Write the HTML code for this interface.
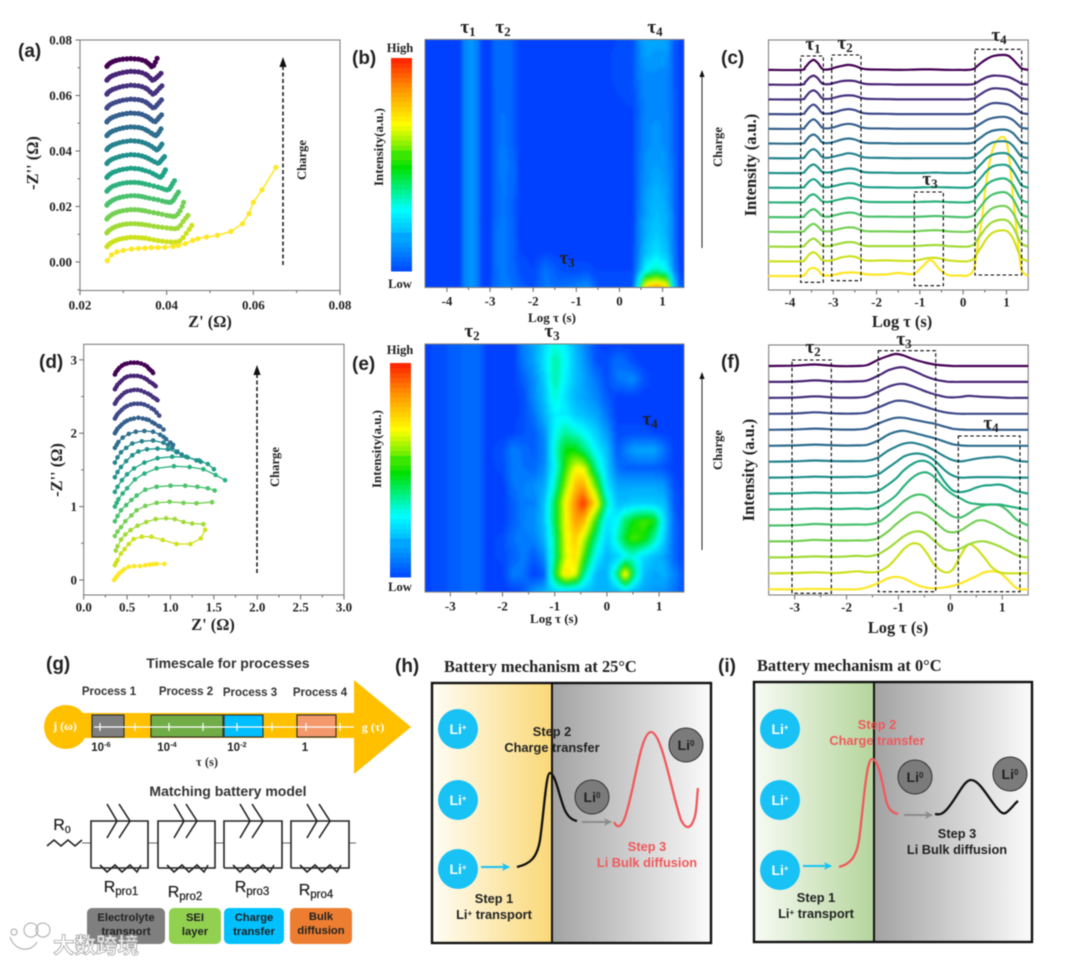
<!DOCTYPE html>
<html lang="en">
<head>
<meta charset="utf-8">
<title>DRT charge analysis figure</title>
<style>
html,body{margin:0;padding:0;background:#fff}
svg{display:block;filter:blur(.45px)}
.s{font-family:"Liberation Sans","Noto Sans CJK SC",sans-serif;font-weight:700}
.f{font-family:"Liberation Serif","Noto Sans CJK SC",serif;font-weight:700}
.m{text-anchor:middle}
.e{text-anchor:end}
.p{font-size:19px;fill:#222}
.tk{font-size:13px;fill:#222}
.big{font-size:16.4px;fill:#222}
.sm{font-size:12.6px;fill:#222}
.tau{font-size:19px;fill:#222}
.tau tspan{font-size:13px}
.st{font-size:12.8px;fill:#222}
.red{fill:#f0595c}
.pr{font-size:11.5px;fill:#333}
.lg{font-size:11.2px;fill:#222}
.box{fill:none;stroke:#000;stroke-width:1.1;stroke-dasharray:3.5 2.5}
.fr{fill:none;stroke:#808080;stroke-width:1.1}
.ci{fill:none;stroke:#222;stroke-width:1.6}
.li{fill:#fff;font-size:14px}
.li0{fill:#222;font-size:14px}
.ttl{font-size:16.4px;fill:#222}
.rp{font-size:16px;fill:#222;font-weight:400;stroke:#222;stroke-width:.25}
</style>
</head>
<body>
<svg id="figure" xmlns="http://www.w3.org/2000/svg" width="1080" height="964" viewBox="0 0 1080 964">
<defs>
<marker id="ahb" markerWidth="9" markerHeight="9" refX="7" refY="4" orient="auto" markerUnits="userSpaceOnUse"><path d="M0 0L8 4L0 8L2 4Z" fill="#19c2f5"/></marker>
<marker id="ahg" markerWidth="9" markerHeight="9" refX="7" refY="4" orient="auto" markerUnits="userSpaceOnUse"><path d="M0 0L8 4L0 8L2 4Z" fill="#8c8c8c"/></marker>
<linearGradient id="gradOrange" x1="0" x2="1" y1="0" y2="0"><stop offset="0" stop-color="#fffdf5"/><stop offset="1" stop-color="#fad877"/></linearGradient>
<linearGradient id="gradGreen" x1="0" x2="1" y1="0" y2="0"><stop offset="0" stop-color="#f8fbf5"/><stop offset="1" stop-color="#b4d59b"/></linearGradient>
<linearGradient id="gradGrey" x1="0" x2="1" y1="0" y2="0"><stop offset="0" stop-color="#a2a2a2"/><stop offset="1" stop-color="#fbfbfb"/></linearGradient>
<filter id="soft" x="-3%" y="-3%" width="106%" height="106%"><feGaussianBlur stdDeviation="1.7"/></filter>
<clipPath id="clipB"><rect x="425" y="39.5" width="259" height="248"/></clipPath>
<clipPath id="clipE"><rect x="425" y="344" width="259" height="248"/></clipPath>
</defs>

<g id="panel-a"></g>
<g id="panel-b"></g>
<g id="panel-c"></g>
<g id="panel-d"></g>
<g id="panel-e"></g>
<g id="panel-f"></g>

<!-- panel letters -->
<text class="s p" x="18" y="57">(a)</text>
<text class="s p" x="352" y="64">(b)</text>
<text class="s p" x="721" y="64">(c)</text>
<text class="s p" x="39" y="368">(d)</text>
<text class="s p" x="352" y="370">(e)</text>
<text class="s p" x="721" y="368">(f)</text>
<text class="s p" x="46" y="670">(g)</text>
<text class="s p" x="395" y="672">(h)</text>
<text class="s p" x="718" y="672">(i)</text>

<!-- axis titles -->
<text class="f big m" x="210" y="327">Z' (Ω)</text>
<text class="f big m" transform="translate(38,163) rotate(-90)">-Z'' (Ω)</text>
<text class="f big m" x="213" y="630">Z' (Ω)</text>
<text class="f big m" transform="translate(62,470) rotate(-90)">-Z'' (Ω)</text>
<text class="f tk m" x="552" y="322">Log τ (s)</text>
<text class="f tk m" x="554" y="623">Log τ (s)</text>
<text class="f big m" x="902" y="327">Log τ (s)</text>
<text class="f big m" x="898" y="633">Log τ (s)</text>
<text class="f big m" transform="translate(756,165) rotate(-90)">Intensity (a.u.)</text>
<text class="f big m" transform="translate(754,470) rotate(-90)">Intensity (a.u.)</text>
<text class="f tk m" transform="translate(383,147) rotate(-90)">Intensity(a.u.)</text>
<text class="f tk m" transform="translate(381,449) rotate(-90)">Intensity(a.u.)</text>
<text class="f sm m" x="400" y="52">High</text>
<text class="f sm m" x="400" y="288">Low</text>
<text class="f sm m" x="400" y="354">High</text>
<text class="f sm m" x="400" y="591">Low</text>

<!-- charge arrows -->
<line x1="283" y1="265" x2="283" y2="60" stroke="#111" stroke-width="1.5" stroke-dasharray="4 2.5"/>
<path d="M283 57l-3.6 10h7.2z" fill="#111"/>
<text class="f sm m" transform="translate(306,160) rotate(-90)">Charge</text>
<line x1="257" y1="573" x2="257" y2="368" stroke="#111" stroke-width="1.5" stroke-dasharray="4 2.5"/>
<path d="M257 365l-3.6 10h7.2z" fill="#111"/>
<text class="f sm m" transform="translate(279,467) rotate(-90)">Charge</text>
<line x1="702" y1="248" x2="702" y2="74" stroke="#222" stroke-width="1"/>
<path d="M702 70l-2.6 7h5.2z" fill="#111"/>
<line x1="702" y1="550" x2="702" y2="376" stroke="#222" stroke-width="1"/>
<path d="M702 372l-2.6 7h5.2z" fill="#111"/>
<text class="f sm m" transform="translate(722,147) rotate(-90)">Charge</text>
<text class="f sm m" transform="translate(722,450) rotate(-90)">Charge</text>

<!-- tau labels -->
<text class="f tau m" x="468" y="33">τ<tspan dy="3">1</tspan></text>
<text class="f tau m" x="503" y="33">τ<tspan dy="3">2</tspan></text>
<text class="f tau m" x="655" y="33">τ<tspan dy="3">4</tspan></text>
<text class="f tau m" x="567" y="264">τ<tspan dy="3">3</tspan></text>
<text class="f tau m" x="472" y="337">τ<tspan dy="3">2</tspan></text>
<text class="f tau m" x="552" y="337">τ<tspan dy="3">3</tspan></text>
<text class="f tau m" x="650" y="425">τ<tspan dy="3">4</tspan></text>
<text class="f tau m" x="813" y="50">τ<tspan dy="3">1</tspan></text>
<text class="f tau m" x="845" y="49">τ<tspan dy="3">2</tspan></text>
<text class="f tau m" x="930" y="185">τ<tspan dy="3">3</tspan></text>
<text class="f tau m" x="999" y="41">τ<tspan dy="3">4</tspan></text>
<text class="f tau m" x="813" y="353">τ<tspan dy="3">2</tspan></text>
<text class="f tau m" x="904" y="345">τ<tspan dy="3">3</tspan></text>
<text class="f tau m" x="991" y="429">τ<tspan dy="3">4</tspan></text>

<!-- dashed boxes -->
<rect class="box" x="800.7" y="56" width="22.6" height="226.3"/>
<rect class="box" x="831.7" y="55" width="29.3" height="225.7"/>
<rect class="box" x="914.3" y="192" width="29" height="93.7"/>
<rect class="box" x="975" y="49.3" width="46.7" height="225.7"/>
<rect class="box" x="792" y="360" width="39.3" height="233.3"/>
<rect class="box" x="878.3" y="350.7" width="57.4" height="241"/>
<rect class="box" x="958.3" y="436" width="61.7" height="155.7"/>

<!-- panel g -->
<g>
<text class="s m" style="font-size:14px;fill:#333" x="228" y="668">Timescale for processes</text>
<text class="s m pr" x="109" y="695">Process 1</text>
<text class="s m pr" x="186" y="695">Process 2</text>
<text class="s m pr" x="250" y="696">Process 3</text>
<text class="s m pr" x="320" y="696">Process 4</text>
<circle cx="66" cy="727" r="22" fill="#ffc000"/>
<path d="M80 713H354V680L411 727L354 774V738H80Z" fill="#ffc000"/>
<rect x="92" y="715" width="32" height="22" fill="#7f7f7f" stroke="#333" stroke-width="1.2"/>
<rect x="151" y="715" width="72" height="22" fill="#70ad47" stroke="#333" stroke-width="1.2"/>
<rect x="224" y="715" width="39" height="22" fill="#00bfff" stroke="#333" stroke-width="1.2"/>
<rect x="297" y="715" width="39" height="22" fill="#f4996b" stroke="#333" stroke-width="1.2"/>
<path d="M94 727H354M100 723v8M135 723v8M169 723v8M203 723v8M237 723v8M272 723v8M306 723v8M340 723v8" stroke="#fff" stroke-width="1.2" fill="none"/>
<text class="f m" style="font-size:12px;fill:#fff" x="65" y="730">j (ω)</text>
<text class="f m" style="font-size:12px;fill:#fff" x="373" y="731">g (τ)</text>
<text class="s m" style="font-size:11.5px;fill:#222" x="101" y="751">10<tspan dy="-4" font-size="7.5">-6</tspan></text>
<text class="s m" style="font-size:11.5px;fill:#222" x="167" y="751">10<tspan dy="-4" font-size="7.5">-4</tspan></text>
<text class="s m" style="font-size:11.5px;fill:#222" x="237" y="751">10<tspan dy="-4" font-size="7.5">-2</tspan></text>
<text class="s m" style="font-size:11.5px;fill:#222" x="305" y="751">1</text>
<text class="f m" style="font-size:12.5px;fill:#333" x="207" y="766">τ (s)</text>
<text class="s m" style="font-size:14px;fill:#333" x="228" y="796">Matching battery model</text>
<text class="s m rp" x="62" y="830">R<tspan dy="3" font-size="10.5">0</tspan></text>
<path class="ci" d="M47 846l7-6l7 6l7-6l7 6l7-6"/>
<path d="M82 843H91M148 843H158M215 843H224M282 843H291M349 843H356" stroke="#666" stroke-width="1" fill="none"/>
<path class="ci" d="M91 868V821H148V868H91M100 865l7 7l8-7l7 7l8-7l7 7l4-7"/>
<path class="ci" d="M107 804l10 17l-10 17M119 804l11 17l-11 17"/>
<path class="ci" d="M158 868V821H215V868H158M167 865l7 7l8-7l7 7l8-7l7 7l4-7"/>
<path class="ci" d="M174 804l10 17l-10 17M186 804l11 17l-11 17"/>
<path class="ci" d="M224 868V821H282V868H224M233 865l7 7l8-7l7 7l8-7l7 7l4-7"/>
<path class="ci" d="M240 804l10 17l-10 17M252 804l11 17l-11 17"/>
<path class="ci" d="M291 868V821H349V868H291M300 865l7 7l8-7l7 7l8-7l7 7l4-7"/>
<path class="ci" d="M307 804l10 17l-10 17M319 804l11 17l-11 17"/>
<text class="s m rp" x="121" y="892">R<tspan dy="3" font-size="11.5">pro1</tspan></text>
<text class="s m rp" x="185" y="897">R<tspan dy="3" font-size="11.5">pro2</tspan></text>
<text class="s m rp" x="252" y="892">R<tspan dy="3" font-size="11.5">pro3</tspan></text>
<text class="s m rp" x="316" y="895">R<tspan dy="3" font-size="11.5">pro4</tspan></text>
<rect x="87" y="908" width="78" height="36" rx="5" fill="#7f7f7f"/>
<rect x="169" y="908" width="52" height="36" rx="5" fill="#92d050"/>
<rect x="224" y="908" width="60" height="36" rx="5" fill="#00c0ff"/>
<rect x="290" y="908" width="62" height="36" rx="5" fill="#ed7d31"/>
<text class="s m lg" x="126" y="921">Electrolyte</text>
<text class="s m lg" x="126" y="935">transport</text>
<text class="s m lg" x="195" y="921">SEI</text>
<text class="s m lg" x="195" y="935">layer</text>
<text class="s m lg" x="254" y="921">Charge</text>
<text class="s m lg" x="254" y="935">transfer</text>
<text class="s m lg" x="321" y="920">Bulk</text>
<text class="s m lg" x="321" y="934">diffusion</text>
</g>

<!-- panel h -->
<g>
<text class="f ttl" x="444" y="672">Battery mechanism at 25°C</text>
<rect x="432" y="683" width="120" height="260" fill="url(#gradOrange)"/>
<rect x="552" y="683" width="159" height="260" fill="url(#gradGrey)"/>
<rect x="432" y="683" width="279" height="260" fill="none" stroke="#111" stroke-width="2.4"/>
<line x1="552" y1="683" x2="552" y2="943" stroke="#111" stroke-width="2"/>
<circle cx="458" cy="729" r="20" fill="#19c2f5"/>
<circle cx="458" cy="800" r="20" fill="#19c2f5"/>
<circle cx="458" cy="869" r="20" fill="#19c2f5"/>
<text class="s m li" x="458" y="734">Li<tspan dy="-4" font-size="8">+</tspan></text>
<text class="s m li" x="458" y="805">Li<tspan dy="-4" font-size="8">+</tspan></text>
<text class="s m li" x="458" y="874">Li<tspan dy="-4" font-size="8">+</tspan></text>
<circle cx="592" cy="797" r="17" fill="#7b7b7b" stroke="#333" stroke-width="1"/>
<circle cx="686" cy="745" r="17" fill="#7b7b7b" stroke="#333" stroke-width="1"/>
<text class="s m li0" x="592" y="802">Li<tspan dy="-4" font-size="8">0</tspan></text>
<text class="s m li0" x="686" y="750">Li<tspan dy="-4" font-size="8">0</tspan></text>
<path d="M517 867C530 864 537 858 540 840C544 812 546 773 550 773C555 773 559 795 564 808C567 816 572 820 577 821" fill="none" stroke="#111" stroke-width="2.3"/>
<path d="M614 822C617 828 620 828 624 820C634 795 640 732 651 732C662 732 672 795 681 820C686 830 691 830 695 816C697 808 697 795 698 788" fill="none" stroke="#f0595c" stroke-width="2.3"/>
<line x1="481" y1="867" x2="509" y2="867" stroke="#19c2f5" stroke-width="2" marker-end="url(#ahb)"/>
<line x1="582" y1="822" x2="611" y2="822" stroke="#8c8c8c" stroke-width="2" marker-end="url(#ahg)"/>
<text class="s m st" x="552" y="736">Step 2</text>
<text class="s m st" x="552" y="752">Charge transfer</text>
<text class="s m st red" x="647" y="851">Step 3</text>
<text class="s m st red" x="647" y="867">Li Bulk diffusion</text>
<text class="s m st" x="494" y="903">Step 1</text>
<text class="s m st" x="494" y="919">Li<tspan dy="-3" font-size="8">+</tspan><tspan dy="3"> transport</tspan></text>
</g>

<!-- panel i -->
<g>
<text class="f ttl" x="757" y="671">Battery mechanism at 0°C</text>
<rect x="754" y="682" width="120" height="260" fill="url(#gradGreen)"/>
<rect x="874" y="682" width="158" height="260" fill="url(#gradGrey)"/>
<rect x="754" y="682" width="278" height="260" fill="none" stroke="#111" stroke-width="2.4"/>
<line x1="874" y1="682" x2="874" y2="942" stroke="#111" stroke-width="2"/>
<circle cx="780" cy="729" r="20" fill="#19c2f5"/>
<circle cx="780" cy="800" r="20" fill="#19c2f5"/>
<circle cx="780" cy="870" r="20" fill="#19c2f5"/>
<text class="s m li" x="780" y="734">Li<tspan dy="-4" font-size="8">+</tspan></text>
<text class="s m li" x="780" y="805">Li<tspan dy="-4" font-size="8">+</tspan></text>
<text class="s m li" x="780" y="875">Li<tspan dy="-4" font-size="8">+</tspan></text>
<circle cx="915" cy="777" r="17" fill="#7b7b7b" stroke="#333" stroke-width="1"/>
<circle cx="1010" cy="774" r="17" fill="#7b7b7b" stroke="#333" stroke-width="1"/>
<text class="s m li0" x="915" y="782">Li<tspan dy="-4" font-size="8">0</tspan></text>
<text class="s m li0" x="1010" y="779">Li<tspan dy="-4" font-size="8">0</tspan></text>
<path d="M839 867C850 864 856 858 859 840C863 812 866 759 872 759C878 759 882 780 886 800C889 812 894 813 898 814" fill="none" stroke="#f0595c" stroke-width="2.3"/>
<path d="M935 814C940 815 943 814 948 808C958 796 964 780 971 780C978 780 985 792 993 803C999 811 1003 816 1007 812C1012 808 1015 803 1018 801" fill="none" stroke="#111" stroke-width="2.3"/>
<line x1="803" y1="866" x2="831" y2="866" stroke="#19c2f5" stroke-width="2" marker-end="url(#ahb)"/>
<line x1="904" y1="815" x2="932" y2="815" stroke="#8c8c8c" stroke-width="2" marker-end="url(#ahg)"/>
<text class="s m st red" x="877" y="729">Step 2</text>
<text class="s m st red" x="877" y="745">Charge transfer</text>
<text class="s m st" x="957" y="838">Step 3</text>
<text class="s m st" x="957" y="854">Li Bulk diffusion</text>
<text class="s m st" x="816" y="902">Step 1</text>
<text class="s m st" x="816" y="918">Li<tspan dy="-3" font-size="8">+</tspan><tspan dy="3"> transport</tspan></text>
</g>

<!-- watermark -->
<g>
<path d="M10 937C14 950 30 954 37 942M24 930a7 7 0 1 1 0 .1M36 930a7 7 0 1 1 0 .1M11 932a3 3 0 1 1 0 .1" fill="none" stroke="#fff" stroke-width="3" opacity=".85"/>
<path d="M10 937C14 950 30 954 37 942M24 930a7 7 0 1 1 0 .1M36 930a7 7 0 1 1 0 .1M11 932a3 3 0 1 1 0 .1" fill="none" stroke="#a8a8a8" stroke-width="1"/>
<text x="53" y="953" style="font-family:'Liberation Sans','Noto Sans CJK SC',sans-serif;font-size:21.5px;font-weight:700;fill:#fff;fill-opacity:.8;stroke:#9a9a9a;stroke-width:.7">大数跨境</text>
</g>
</svg>

<script>
/* shared series colours, index 0 = first (yellow) curve, 14 = last (purple) curve */
const seriesColors = ['#fde725','#cde11d','#a0da39','#75d054','#4ac16d','#2db27d','#1fa187','#21918c','#26828e','#2e6e8e','#355f8d','#3e4989','#46327e','#482475','#440154'];

/* ---- panel a data (Z', -Z'' in ohm, stacked with offset as plotted) ---- */
const aXTicks = [0.02,0.04,0.06,0.08];
const aXMinor = [0.03,0.05,0.07];
const aYTicks = [0,0.02,0.04,0.06,0.08];
const aYMinor = [-0.01,0.01,0.03,0.05,0.07];
const aFirstRe = [.0263,.0273,.0285,.030,.0319,.0335,.035,.0365,.038,.0396,.0415,.0427,.0443,.046,.0472,.0492,.0517,.0548,.0575,.059,.06,.062,.0652];
const aFirstIm = [.0005,.0026,.0036,.0042,.0047,.0049,.005,.0052,.0052,.0053,.0056,.0059,.0066,.0078,.0084,.009,.0096,.011,.0138,.0174,.0215,.026,.0341];
const aArcRe = [.0262,.0265,.0270,.0276,.0283,.0291,.0299,.0308,.0317,.0326,.0335,.0343,.0351];
const aArcIm = [
[.0055,.0061,.0067,.0073,.0078,.0082,.0085,.0087,.0089,.0089,.0088,.0087,.0086],
[.0105,.0111,.0117,.0123,.0128,.0132,.0135,.0137,.0138,.0138,.0137,.0136,.0134],
[.0155,.0161,.0167,.0173,.0178,.0182,.0185,.0187,.0189,.0189,.0188,.0186,.0184],
[.0205,.0211,.0217,.0223,.0228,.0232,.0235,.0237,.0239,.0239,.0238,.0236,.0233],
[.0255,.0261,.0267,.0273,.0277,.0281,.0284,.0286,.0287,.0287,.0286,.0284,.0281],
[.0305,.0311,.0317,.0323,.0327,.0331,.0334,.0336,.0338,.0337,.0336,.0333,.0329],
[.0355,.0361,.0367,.0372,.0376,.0380,.0383,.0385,.0387,.0386,.0385,.0382,.0378],
[.0405,.0411,.0417,.0422,.0426,.0430,.0433,.0435,.0437,.0436,.0435,.0432,.0428],
[.0455,.0461,.0467,.0472,.0476,.0480,.0483,.0485,.0487,.0486,.0485,.0482,.0477],
[.0505,.0511,.0517,.0522,.0526,.0530,.0533,.0535,.0537,.0536,.0535,.0532,.0527],
[.0555,.0561,.0567,.0572,.0576,.0580,.0583,.0585,.0587,.0586,.0585,.0582,.0577],
[.0605,.0611,.0617,.0622,.0626,.0630,.0633,.0635,.0637,.0636,.0635,.0632,.0627],
[.0655,.0661,.0667,.0672,.0676,.0680,.0683,.0685,.0687,.0686,.0685,.0682,.0677],
[.0705,.0711,.0717,.0722,.0726,.0729,.0731,.0732,.0733,.0732,.0731,.0728,.0724]];
const aTailRe = [
[.036,.037,.038,.039,.040,.041,.042,.043,.0438,.0445,.0452,.0458],
[.036,.037,.038,.039,.040,.041,.0418,.0425,.0432,.0438,.0444,.0449],
[.036,.037,.038,.039,.040,.0408,.0415,.042,.0426,.0431,.0436,.0439],
[.036,.037,.038,.039,.0398,.0405,.041,.0415,.0419,.0423,.0427],
[.036,.037,.038,.0388,.0395,.0401,.0406,.041,.0414,.0418],
[.036,.0368,.0375,.0382,.0386,.039,.0394,.0397],
[.0358,.0365,.0372,.0379,.0383,.0387,.0391,.0395],
[.0358,.0365,.0371,.0377,.0381,.0385,.0389],
[.0357,.0364,.037,.0375,.0379,.0383,.0387],
[.0357,.0363,.0369,.0374,.0379,.0383,.0388],
[.0356,.0362,.0368,.0373,.0378,.0383,.0388],
[.0356,.0362,.0368,.0373,.0378,.0384,.0389],
[.0356,.0362,.0367,.0372,.0377,.0382,.0387],
[.0356,.0361,.0365,.037,.0374,.0378]];
const aTailIm = [
[.0083,.0080,.0077,.0075,.0073,.0072,.0072,.0076,.0088,.0103,.0118,.0132],
[.0132,.0129,.0127,.0125,.0123,.0121,.012,.0122,.0132,.0146,.0158,.0168],
[.0181,.0178,.0175,.0172,.0168,.0166,.0164,.0165,.0173,.0185,.0200,.0215],
[.023,.0227,.0224,.022,.0217,.0215,.0216,.0222,.0232,.0242,.0252],
[.0278,.0274,.027,.0266,.0262,.026,.0263,.0272,.0283,.0293],
[.0325,.0319,.0313,.0307,.0306,.0312,.0323,.0332],
[.0373,.0367,.0361,.0356,.0358,.0365,.0373,.038],
[.0423,.0417,.0410,.0404,.0408,.0416,.0425],
[.0472,.0465,.0459,.0455,.0461,.047,.048],
[.0522,.0515,.0508,.0506,.0514,.0522,.053],
[.0572,.0564,.0556,.0558,.0566,.0575,.0584],
[.0622,.0613,.0605,.0609,.0617,.0627,.0635],
[.0672,.0663,.0655,.0658,.0665,.0672,.068],
[.0718,.0711,.0704,.0708,.0720,.0734]];

/* ---- panel d data ---- */
const dXTicks = [0,0.5,1,1.5,2,2.5,3];
const dXLabels = ['0.0','0.5','1.0','1.5','2.0','2.5','3.0'];
const dXMinor = [0.25,0.75,1.25,1.75,2.25,2.75];
const dYTicks = [0,1,2,3];
const dYMinor = [0.5,1.5,2.5];
const dRe = [
[.35,.37,.39,.41,.44,.47,.52,.58,.65,.71,.76,.80,.84,.93],
[.36,.37,.39,.43,.47,.52,.575,.67,.78,.91,1.07,1.23,1.35,1.4],
[.37,.39,.43,.48,.54,.62,.72,.83,.95,1.05,1.15,1.25,1.38],
[.36,.39,.43,.48,.55,.61,.71,.84,.99,1.15,1.3,1.48],
[.36,.39,.43,.49,.55,.61,.71,.84,1.0,1.17,1.31,1.43,1.51],
[.36,.38,.4,.45,.5,.59,.7,.84,1.04,1.22,1.38,1.52,1.63],
[.36,.39,.44,.5,.58,.7,.85,1.02,1.2,1.33,1.43,1.5],
[.36,.39,.43,.49,.56,.63,.73,.85,.97,1.07,1.18,1.3,1.35],
[.36,.39,.43,.49,.56,.67,.8,.92,.97,1.02,1.08,1.13],
[.36,.38,.4,.45,.52,.6,.7,.8,.88,.92,.95,1.0,1.03],
[.36,.375,.39,.415,.44,.47,.5,.54,.58,.63,.68,.72,.75,.79,.82,.86,.88,.92],
[.36,.375,.39,.415,.44,.47,.5,.54,.58,.62,.66,.70,.74,.78,.81,.84,.87],
[.36,.375,.39,.415,.44,.47,.5,.54,.58,.62,.66,.70,.74,.77,.8,.83,.85],
[.36,.375,.39,.415,.44,.47,.5,.54,.58,.62,.66,.70,.73,.76,.79,.81,.83],
[.36,.37,.39,.41,.44,.47,.5,.54,.58,.62,.66,.70,.73,.75,.77,.79,.8]];
const dIm = [
[0,.03,.06,.09,.12,.15,.18,.19,.19,.2,.21,.215,.22,.22],
[.2,.23,.27,.36,.42,.49,.558,.59,.59,.545,.49,.49,.567,.685],
[.4,.46,.55,.62,.68,.74,.79,.83,.84,.83,.79,.77,.76],
[.6,.66,.72,.8,.88,.95,1.01,1.05,1.065,1.05,1.045,1.06],
[.8,.87,.95,1.02,1.09,1.15,1.23,1.27,1.285,1.285,1.27,1.25,1.22],
[1,1.05,1.1,1.18,1.25,1.37,1.45,1.52,1.55,1.54,1.51,1.43,1.36],
[1.2,1.27,1.36,1.44,1.52,1.6,1.66,1.68,1.67,1.63,1.58,1.51],
[1.4,1.47,1.54,1.62,1.7,1.75,1.78,1.79,1.78,1.74,1.68,1.63,1.61],
[1.6,1.67,1.74,1.8,1.86,1.89,1.9,1.87,1.84,1.8,1.75,1.71],
[1.8,1.84,1.88,1.94,1.99,2.02,2.03,2.02,1.98,1.95,1.92,1.87,1.84],
[2,2.03,2.06,2.09,2.12,2.15,2.17,2.19,2.2,2.21,2.2,2.19,2.18,2.15,2.13,2.1,2.09,2.05],
[2.2,2.23,2.26,2.29,2.32,2.35,2.37,2.39,2.4,2.4,2.4,2.39,2.37,2.34,2.32,2.28,2.24],
[2.4,2.43,2.46,2.49,2.52,2.55,2.57,2.58,2.59,2.59,2.58,2.56,2.54,2.52,2.49,2.47,2.45],
[2.6,2.63,2.66,2.69,2.72,2.75,2.77,2.78,2.78,2.78,2.77,2.75,2.73,2.7,2.68,2.66,2.64],
[2.8,2.83,2.86,2.89,2.92,2.94,2.95,2.96,2.96,2.96,2.95,2.93,2.91,2.88,2.86,2.84,2.82]];

/* ---- panel b heatmap: rows bottom to top, normalised intensity ---- */
const bTicks = [-4,-3,-2,-1,0,1];
const bMinor = [-3.5,-2.5,-1.5,-0.5,0.5];
const bTau = [-4.5,-3.7,-3.6,-3.45,-3.3,-3.2,-3.0,-2.9,-2.7,-2.45,-2.3,-2.0,-1.7,-1.4,-1.1,-0.75,-0.5,0.3,0.45,0.6,0.85,1.1,1.25,1.4,1.5];
const bGrid = [
[0,0,.11,.13,.11,0,.01,.07,.09,.08,.04,.03,.09,.07,.09,.13,.03,.02,.35,.78,.86,.78,.28,.05,.02],
[0,0,.11,.13,.11,0,0,.07,.09,.06,.03,.01,.08,.03,.02,.02,.01,.01,.14,.29,.36,.29,.12,.01,0],
[0,0,.11,.13,.11,0,0,.07,.1,.05,.01,0,.01,0,0,0,0,.01,.11,.2,.25,.2,.1,0,0],
[0,0,.11,.13,.11,0,0,.07,.1,.05,0,0,0,0,0,0,0,.01,.1,.18,.22,.18,.09,0,0],
[0,0,.11,.13,.11,0,0,.06,.09,.05,0,0,0,0,0,0,0,.01,.09,.16,.2,.17,.09,0,0],
[0,0,.11,.13,.11,0,0,.06,.09,.05,0,0,0,0,0,0,0,.01,.09,.15,.19,.16,.08,0,0],
[0,0,.11,.13,.11,0,0,.06,.09,.06,0,0,0,0,0,0,0,.01,.08,.13,.17,.14,.07,0,0],
[0,0,.11,.13,.11,0,0,.06,.1,.06,0,0,0,0,0,0,0,.01,.07,.13,.15,.13,.07,0,0],
[0,0,.11,.13,.11,0,0,.06,.09,.05,0,0,0,0,0,0,0,.01,.07,.12,.13,.12,.06,0,0],
[0,0,.11,.13,.11,0,0,.06,.09,.05,0,0,0,0,0,0,0,.01,.07,.12,.13,.12,.06,0,0],
[0,0,.11,.13,.11,0,0,.06,.08,.05,0,0,0,0,0,0,0,.01,.06,.11,.12,.11,.06,0,0],
[0,0,.11,.13,.11,0,0,.06,.08,.05,0,0,0,0,0,0,0,.02,.08,.11,.12,.11,.06,0,0],
[0,0,.11,.13,.11,0,0,.07,.08,.05,0,0,0,0,0,0,0,.03,.09,.12,.12,.11,.05,0,0],
[0,0,.11,.13,.11,0,0,.07,.08,.05,0,0,0,0,0,0,0,.03,.1,.15,.14,.14,.05,0,0],
[0,0,.11,.13,.11,0,0,.07,.08,.05,0,0,0,0,0,0,0,.02,.12,.16,.16,.16,.06,0,0]];

/* ---- panel e heatmap ---- */
const eTicks = [-3,-2,-1,0,1];
const eMinor = [-2.5,-1.5,-0.5,0.5];
const eTau = [-3.5,-2.75,-2.6,-2.45,-2.3,-2.0,-1.8,-1.6,-1.4,-1.2,-1.0,-0.8,-0.6,-0.45,-0.2,0,0.2,0.35,0.5,0.7,0.9,1.1,1.3,1.5];
const eGrid = [
[0,.06,.07,.06,0,0,0,.03,.14,.18,.22,.22,.2,.2,.18,.17,.18,.22,.18,.16,.14,.13,.08,.02],
[0,.06,.07,.06,0,0,.1,.08,0,.04,.48,.75,.68,.4,.18,.18,.42,.75,.45,.2,.16,.18,.1,.02],
[0,.06,.07,.06,0,.02,.05,.1,.04,.12,.4,.66,.76,.55,.28,.18,.22,.3,.32,.24,.2,.16,.05,0],
[0,.06,.07,.06,0,.02,.08,.1,.1,.18,.4,.68,.78,.66,.38,.22,.35,.48,.55,.52,.38,.22,.05,0],
[0,.06,.07,.06,0,0,.05,.1,.12,.2,.45,.68,.85,.82,.5,.25,.3,.42,.5,.55,.52,.25,.05,0],
[0,.06,.07,.06,0,0,.05,.1,.1,.2,.45,.7,.88,1,.72,.36,.2,.2,.22,.22,.22,.2,.03,0],
[0,.06,.07,.06,0,0,.08,.1,.12,.16,.36,.6,.8,.84,.55,.26,.16,.16,.16,.16,.16,.14,.02,0],
[0,.06,.07,.06,0,.02,.1,.08,.06,.12,.3,.52,.7,.68,.38,.22,.08,.05,.05,.05,.05,.03,0,0],
[0,.06,.07,.06,0,.03,.1,.07,.05,.1,.33,.5,.5,.42,.28,.2,.04,.1,.15,.16,.16,.08,0,0],
[0,.06,.07,.06,0,0,.01,.03,.05,.12,.3,.38,.34,.3,.22,.14,.02,.02,.02,.02,.01,0,0,0],
[0,.06,.07,.06,0,0,0,.02,.08,.18,.28,.28,.22,.2,.16,.08,0,0,0,0,0,0,0,0],
[0,.06,.07,.06,0,0,0,.02,.12,.2,.34,.25,.18,.16,.11,.04,0,0,0,0,0,0,0,0],
[0,.06,.07,.06,0,0,0,.05,.12,.22,.38,.28,.2,.16,.08,.02,.08,.1,.12,.03,0,0,0,0],
[0,.06,.07,.06,0,0,0,.09,.15,.26,.38,.3,.2,.14,.03,.02,.08,.06,.02,0,0,0,0,0],
[0,.06,.07,.06,0,0,0,.1,.16,.24,.32,.28,.18,.12,.01,0,0,0,0,0,0,0,0,0]];

/* ---- panel c ridgeline: curve heights (a.u.) ---- */
const cTicks = [-4,-3,-2,-1,0,1];
const cMinor = [-3.5,-2.5,-1.5,-0.5,0.5];
const cTau = [-4.5,-3.75,-3.65,-3.55,-3.45,-3.35,-3.25,-3.1,-2.95,-2.8,-2.65,-2.5,-2.35,-2.2,-1.8,-1.5,-1.15,-.95,-.75,-.55,-.35,-.1,.1,.24,.31,.43,.55,.7,.93,1.05,1.16,1.28,1.35,1.5];
const cCurves = [
[0,0,2,7,8,6,1,.5,1.5,3,3.5,3.5,2.5,1.5,1.5,3,2,9,16,7,1,.5,.5,6,23,56,99,129,139,123,76,29,6,0],
[0,0,2,7,9,6,1,.5,2,4,5,4.5,2,.5,1,.5,.5,2,3.5,3,1,0,0,2,7,15,23,29,31,29,22,9,3,0],
[0,0,2,6,8,5,1,.5,2,3.5,4.5,4,1.5,.5,.5,.5,.5,1,1.5,1.5,.5,0,0,1.6,6,13,20,25,27,25,19,8,2.7,0],
[0,0,2,6,8,5,1,.5,2,3.5,4.5,4,1.5,.5,.5,.3,.3,1,1.5,1.5,.5,0,0,1.5,5.7,12.5,19,24,26,24,18,8,2.6,0],
[0,0,2,6,8,5,1,.5,2,3.5,4.5,4,1.5,.5,.5,.3,.3,.5,1,1,.5,0,0,1.5,5.5,12,18.5,23,25,23,17.5,7.5,2.5,0],
[0,0,2,6.5,8,5,1,.5,2,3.5,4.5,4,1.5,.5,.3,.3,.3,.5,.8,.8,.3,0,0,1.4,5.3,11.5,18,22,24,22,17,7,2.4,0],
[0,0,2,6.5,8.5,5.5,1,.5,2,3.5,4.5,4,1.5,.5,.3,0,0,.3,.5,.5,.3,0,0,1.4,5,11,17,21.5,23,21.5,16,7,2.3,0],
[0,0,2,6.5,8.5,5.5,1,.5,2,3.5,4.5,4,1.5,.5,.3,0,0,0,.3,.3,0,0,0,1.2,4.4,9.6,15,18.6,20,18.6,14,6,2,0],
[0,0,2,7,9,6,1,.5,2,3.5,5,4,1.5,.5,.3,0,0,0,0,0,0,0,0,1,3.7,8,12.6,16,17,16,12,5,1.7,0],
[0,0,2,7,9,6,1,.5,2,4,5,4,1.5,.5,.3,0,0,0,0,0,0,0,0,.8,3,6.7,10.4,13,14,13,10,4.2,1.4,0],
[0,0,2,7,9.5,6,1,.5,2,4,5,4,1.5,.5,.3,0,0,0,0,0,0,0,0,.7,2.6,5.8,8.9,11,12,11,8.4,3.6,1.2,0],
[0,0,2,7,9.5,6,1,.5,2,4,5,4,1.5,.5,.3,0,0,0,0,0,0,0,0,.7,2.4,6,9,11,10.5,9.5,7,3.3,1.1,0],
[0,0,2,7,9,6,1,.5,2,3.5,4,3.5,1.5,.5,.3,0,0,0,0,0,0,0,0,.7,2.4,6,9,11,10.5,9.5,7,3.3,1.1,0],
[0,0,2.5,7,9,6,1,.5,2,3.5,4,3.5,1.5,.5,.3,0,0,0,0,0,0,0,0,.5,2,5,7.5,9,8.5,7.5,5.5,2.7,.9,0],
[0,0,2.5,7.5,10,6.5,1,.5,2.5,4,5,4,1.5,.5,.3,0,.3,.5,.5,.3,0,0,0,.9,3.3,7.5,11,14,15,14,10,4.5,1.5,0]];

/* ---- panel f ridgeline ---- */
const fTicks = [-3,-2,-1,0,1];
const fMinor = [-2.5,-1.5,-0.5,0.5];
const fTau = [-3.5,-3,-2.6,-2.2,-1.8,-1.6,-1.4,-1.2,-1.05,-.9,-.75,-.6,-.45,-.3,-.1,.05,.2,.35,.5,.65,.8,.95,1.1,1.25,1.35,1.5];
const fCurves = [
[0,0,.5,0,0,2,6,11,12.5,11,7,3.5,1.5,1,2,3.5,6,9.5,13,17,18,16.5,10,2,0,0],
[0,.3,1,.3,2,1,1.5,7,15,24,29.5,29,20,8,1,4,18,29,25,16,6,1,0,0,0,0],
[0,.3,1,.5,1.5,1,3,9,15,21,25,26,23,16,8,7,9,13,15.5,16,14,11,7,3,1,0],
[0,.3,1.5,.8,1,1,3,10,17,23,28,29,26,20,11,9,11,16,20.5,21,18,14,9,5,3,0],
[0,.3,1.5,.8,1,1,3,10,17,24,29,31,29,22,14,9,8,12,17,20,21,20,15,7,3.5,0],
[0,.3,1,.5,1,.5,2,8,14,23,31,36,37,32,21,15,11,7,5.5,5,5,5,3.5,2,1,0],
[0,.3,1,.5,.8,.8,2.5,9,15,23,29,32.5,32,26,11,3,1.5,3,6,8,8.5,9,7,3,1.5,0],
[0,.3,1,.5,.8,.8,3,10,15.5,21,23.5,24,22,17,7,2,0,.2,.5,.5,.5,.5,.3,0,0,0],
[0,.3,1.2,.5,.5,1,4,11,15,18,19,17.5,15,11,5,1.5,.3,1.5,3,4,4.5,5,4,1.5,.5,0],
[0,.3,1.2,.3,.3,1,5,11,14,15,13.5,11.5,9.5,7.5,4,1.5,.3,0,0,0,0,0,0,0,0,0],
[0,.3,1.2,.3,.3,1.5,6,10,12,12,10.5,9,7.5,6,3,1,.3,0,0,0,0,0,0,0,0,0],
[0,.3,1.5,.3,.3,1.5,6,10.5,13,13,11.5,9,6.5,4,1.5,.5,0,0,0,0,0,0,0,0,0,0],
[0,.3,1.5,.3,.3,1.5,6,11,13.5,14,12,9,6,3.5,1,.5,1,2,1.5,1,.8,.5,0,0,0,0],
[0,.3,1.5,.3,.5,1.5,6,11.5,14,14.6,12,8.5,5,2.5,.5,0,0,0,0,0,0,0,0,0,0,0],
[0,.3,1.5,0,0,1,6,10,12,10.5,7.5,5,3,1.5,.5,0,0,0,0,0,0,0,0,0,0,0]];

/* ---- scales ---- */
const NS = 'http://www.w3.org/2000/svg';
const scaleAx = v => 80 + (v - 0.02) / 0.06 * 260;
const scaleAy = v => 262 - v / 0.08 * 222;
const scaleDx = v => 83.7 + v / 3 * 260.3;
const scaleDy = v => 580 - v * 73.4;
const scaleBx = v => 425.4 + (v + 4.5) * 43.12;
const scaleCx = v => 768.3 + (v + 4.5) * 43.3;
const scaleEx = v => 424.2 + (v + 3.5) * 52.2;
const scaleFx = v => 768.7 + (v + 3.5) * 51.9;

function make(tag, parent) {
  const n = document.createElementNS(NS, tag);
  parent.appendChild(n);
  return n;
}

function drawFrame(parent, x, y, w, h) {
  const r = make('rect', parent);
  r.setAttribute('class', 'fr');
  r.setAttribute('x', x);
  r.setAttribute('y', y);
  r.setAttribute('width', w);
  r.setAttribute('height', h);
  
  
}

function drawTickLine(parent, x1, y1, x2, y2) {
  const t = make('line', parent);
  t.setAttribute('x1', x1);
  t.setAttribute('y1', y1);
  t.setAttribute('x2', x2);
  t.setAttribute('y2', y2);
  t.setAttribute('stroke', '#666');
  t.setAttribute('stroke-width', '1');
  
  
}

function drawTickLabel(parent, x, y, txt, anchorClass) {
  const t = make('text', parent);
  t.setAttribute('class', 'f tk ' + anchorClass);
  t.setAttribute('x', x);
  t.setAttribute('y', y);
  t.textContent = txt;
  
  
}

function xAxis(parent, scale, y0, ticks, minors, labels, labelY) {
  ticks.forEach((v, i) => {
    drawTickLine(parent, scale(v), y0, scale(v), y0 + 4.5);
    drawTickLabel(parent, scale(v), labelY, labels[i], 'm');
  });
  minors.forEach(v => drawTickLine(parent, scale(v), y0, scale(v), y0 + 2.5));
}

function yAxis(parent, scale, x0, ticks, minors, labels, labelX) {
  ticks.forEach((v, i) => {
    drawTickLine(parent, x0, scale(v), x0 - 4.5, scale(v));
    drawTickLabel(parent, labelX, scale(v) + 4.5, labels[i], 'e');
  });
  minors.forEach(v => drawTickLine(parent, x0, scale(v), x0 - 2.5, scale(v)));
}

function nyquist(parent, re, im, sx, sy, color, r, lw) {
  const g = make('g', parent);
  
  
  const pl = make('polyline', g);
  pl.setAttribute('points', re.map((v, i) => sx(v).toFixed(1) + ',' + sy(im[i]).toFixed(1)).join(' '));
  pl.setAttribute('fill', 'none');
  pl.setAttribute('stroke', color);
  pl.setAttribute('stroke-width', lw);
  
  
  re.forEach((v, i) => {
    const c = make('circle', g);
    c.setAttribute('cx', sx(v).toFixed(1));
    c.setAttribute('cy', sy(im[i]).toFixed(1));
    c.setAttribute('r', r);
    c.setAttribute('fill', color);
    
    
  });
}

const colorStops = [[0,0,64,255],[.3,0,255,255],[.5,0,224,0],[.7,255,255,0],[.87,255,145,0],[1,255,40,0]];
const colorLevels = 44;

function jet(v) {
  const q = Math.min(1, Math.max(0, Math.round(v * colorLevels) / colorLevels));
  for (let i = 1; i < colorStops.length; i++) {
    if (q <= colorStops[i][0]) {
      const a = colorStops[i - 1], b = colorStops[i];
      const t = (q - a[0]) / (b[0] - a[0]);
      return 'rgb(' + [1, 2, 3].map(k => Math.round(a[k] + (b[k] - a[k]) * t)).join(',') + ')';
    }
  }
  return 'rgb(255,40,0)';
}

function sampleGrid(grid, taus, logT, rowPos) {
  let c = 0;
  while (c < taus.length - 2 && logT > taus[c + 1]) c++;
  const tx = Math.min(1, Math.max(0, (logT - taus[c]) / (taus[c + 1] - taus[c])));
  const r = Math.min(grid.length - 2, Math.floor(rowPos));
  const ty = rowPos - r;
  const top = grid[r + 1][c] * (1 - tx) + grid[r + 1][c + 1] * tx;
  const bot = grid[r][c] * (1 - tx) + grid[r][c + 1] * tx;
  return bot * (1 - ty) + top * ty;
}

function heatmap(parent, grid, taus, sx, left, right, top, bottom, clipId) {
  const clip = make('g', parent);
  clip.setAttribute('clip-path', 'url(#' + clipId + ')');
  
  
  const g = make('g', clip);
  g.setAttribute('filter', 'url(#soft)');
  
  
  const step = 2;
  const pad = 8;
  const pxPerUnit = sx(1) - sx(0);
  const origin = sx(0);
  const xEnd = right + pad;
  for (let y = top - pad; y < bottom + pad; y += step) {
    const raw = (bottom - y - step / 2) / (bottom - top) * (grid.length - 1);
    const rowPos = Math.min(grid.length - 1, Math.max(0, raw));
    let runStart = left - pad, runColor = null;
    for (let x = left - pad; ; x += step) {
      const done = x >= xEnd;
      const color = done ? null : jet(sampleGrid(grid, taus, (x + step / 2 - origin) / pxPerUnit, rowPos));
      if (color !== runColor) {
        if (runColor) {
          const cell = make('rect', g);
          cell.setAttribute('x', runStart);
          cell.setAttribute('y', y);
          cell.setAttribute('width', x - runStart + 0.5);
          cell.setAttribute('height', step + 0.5);
          cell.setAttribute('fill', runColor);
          
          
        }
        runStart = x;
        runColor = color;
      }
      if (done) break;
    }
  }
}

function colorbar(parent, x, w, top, bottom) {
  const n = 44;
  const h = (bottom - top) / n;
  for (let i = 0; i < n; i++) {
    const r = make('rect', parent);
    r.setAttribute('x', x);
    r.setAttribute('y', bottom - (i + 1) * h);
    r.setAttribute('width', w);
    r.setAttribute('height', h + 0.5);
    r.setAttribute('fill', jet((i + 0.5) / n));
    
    
  }
}

function smoothPath(pts) {
  let d = 'M' + pts[0][0].toFixed(1) + ' ' + pts[0][1].toFixed(1);
  for (let i = 0; i < pts.length - 1; i++) {
    const p0 = pts[Math.max(0, i - 1)], p1 = pts[i], p2 = pts[i + 1], p3 = pts[Math.min(pts.length - 1, i + 2)];
    const c1x = p1[0] + (p2[0] - p0[0]) / 6, c1y = p1[1] + (p2[1] - p0[1]) / 6;
    const c2x = p2[0] - (p3[0] - p1[0]) / 6, c2y = p2[1] - (p3[1] - p1[1]) / 6;
    d += 'C' + [c1x, c1y, c2x, c2y, p2[0], p2[1]].map(n => n.toFixed(1)).join(' ');
  }
  return d;
}

function ridgeline(parent, taus, curves, sx, y0, spacing, lw) {
  curves.forEach((vals, i) => {
    const pts = taus.map((t, k) => [sx(t), y0 - i * spacing - vals[k]]);
    const p = make('path', parent);
    p.setAttribute('d', smoothPath(pts));
    p.setAttribute('fill', 'none');
    p.setAttribute('stroke', seriesColors[i]);
    p.setAttribute('stroke-width', lw);
    
    
  });
}

/* ---- panel a ---- */
const pa = document.getElementById('panel-a');
drawFrame(pa, 80, 40, 260, 250.5);
xAxis(pa, scaleAx, 290.5, aXTicks, aXMinor, aXTicks.map(v => v.toFixed(2)), 309.5);
yAxis(pa, scaleAy, 80, aYTicks, aYMinor, aYTicks.map(v => v.toFixed(2)), 72);
nyquist(pa, aFirstRe, aFirstIm, scaleAx, scaleAy, seriesColors[0], 2.6, 1.5);
aArcIm.forEach((arc, i) => {
  nyquist(pa, aArcRe.concat(aTailRe[i]), arc.concat(aTailIm[i]), scaleAx, scaleAy, seriesColors[i + 1], 2.6, 1.5);
});

/* ---- panel d ---- */
const pd = document.getElementById('panel-d');
drawFrame(pd, 83.7, 344.3, 260.3, 250.7);
xAxis(pd, scaleDx, 595, dXTicks, dXMinor, dXLabels, 611.5);
yAxis(pd, scaleDy, 83.7, dYTicks, dYMinor, dYTicks.map(String), 77);
dRe.forEach((re, i) => {
  nyquist(pd, re, dIm[i], scaleDx, scaleDy, seriesColors[i], 2.3, 1.3);
});

/* ---- panel b ---- */
const pb = document.getElementById('panel-b');
heatmap(pb, bGrid, bTau, scaleBx, 425, 684, 39.5, 287.5, 'clipB');
colorbar(pb, 391, 21, 58, 271);
drawFrame(pb, 425, 39.5, 259, 248);
xAxis(pb, scaleBx, 287.5, bTicks, bMinor, bTicks.map(String), 305.5);

/* ---- panel e ---- */
const pe = document.getElementById('panel-e');
heatmap(pe, eGrid, eTau, scaleEx, 425, 684, 344, 592, 'clipE');
colorbar(pe, 390, 21, 363, 577);
drawFrame(pe, 425, 344, 259, 248);
xAxis(pe, scaleEx, 592, eTicks, eMinor, eTicks.map(String), 610.5);

/* ---- panel c ---- */
const pc = document.getElementById('panel-c');
drawFrame(pc, 768.5, 40, 259.7, 250);
xAxis(pc, scaleCx, 290, cTicks, cMinor, cTicks.map(String), 306.5);
ridgeline(pc, cTau, cCurves, scaleCx, 276, 14.72, 2.2);

/* ---- panel f ---- */
const pf = document.getElementById('panel-f');
drawFrame(pf, 768.7, 345, 259.5, 250);
xAxis(pf, scaleFx, 595, fTicks, fMinor, fTicks.map(String), 611.5);
ridgeline(pf, fTau, fCurves, scaleFx, 589.3, 15.95, 2.2);
</script>
</body>
</html>
